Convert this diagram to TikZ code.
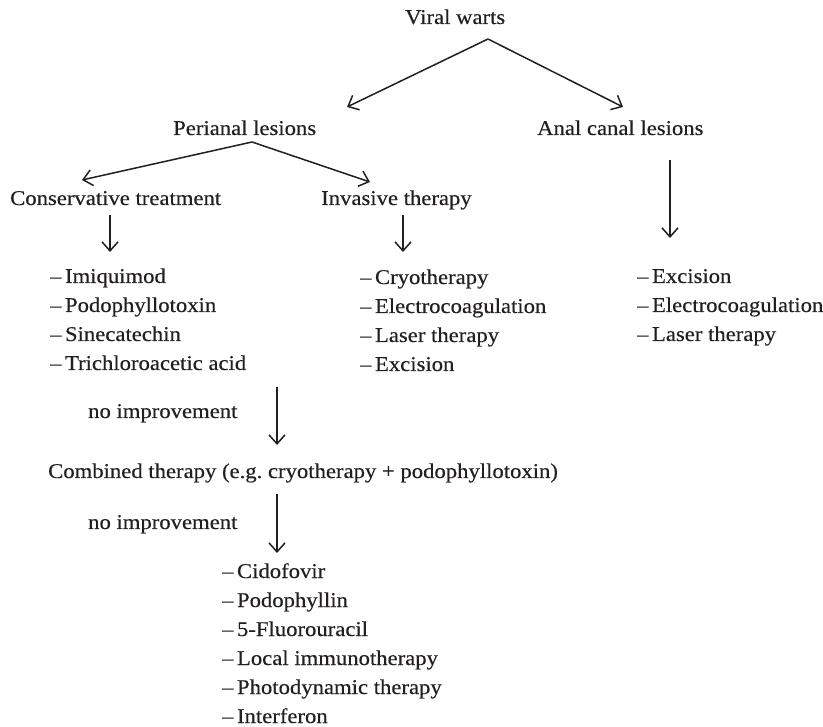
\documentclass[tikz,border=0pt]{standalone}
\usepackage{fontspec}
\setmainfont[FakeStretch=1.08, FakeBold=0.35]{Liberation Serif}
\usetikzlibrary{arrows.meta}
\definecolor{inkDark}{HTML}{231F20}
\newcommand{\itemdash}{–\kern3.5pt}
\tikzset{
  arrowV/.style={-{Straight Barb[length=9pt, width=16pt]}, draw=inkDark, line width=1.5pt},
  lbl/.style={anchor=base west, inner sep=0pt, text=inkDark,
              font=\fontsize{21}{29}\selectfont},
}

\begin{document}
\begin{tikzpicture}[x=1pt, y=-1pt]
    \useasboundingbox (0,0) rectangle (823,727);
    % headings
    \node[lbl] (viral) at (405,24) {Viral warts};
    \node[lbl] (peri) at (173,135) {Perianal lesions};
    \node[lbl] (anal) at (537,135) {Anal canal lesions};
    \node[lbl] (cons) at (10,205) {Conservative treatment};
    \node[lbl] (inva) at (321,205) {Invasive therapy};
    \node[lbl] (noimpA) at (88,418) {no improvement};
    \node[lbl] (comb) at (48,478) {Combined therapy (e.g.\ cryotherapy + podophyllotoxin)};
    \node[lbl] (noimpB) at (88,529) {no improvement};
    % lists
    \foreach \txt [count=\i] in {Imiquimod, Podophyllotoxin, Sinecatechin, Trichloroacetic acid}
      \node[lbl] (cons-\i) at (50,283+29*\i-29) {\itemdash\txt};
    \foreach \txt [count=\i] in {Cryotherapy, Electrocoagulation, Laser therapy, Excision}
      \node[lbl] (inva-\i) at (360,284+29*\i-29) {\itemdash\txt};
    \foreach \txt [count=\i] in {Excision, Electrocoagulation, Laser therapy}
      \node[lbl] (anal-\i) at (637,283+29*\i-29) {\itemdash\txt};
    \foreach \txt [count=\i] in {Cidofovir, Podophyllin, 5-Fluorouracil, Local immunotherapy,
        Photodynamic therapy, Interferon}
      \node[lbl] (last-\i) at (222,578+29*\i-29) {\itemdash\txt};
    % arrow ends
    \coordinate (viral-out) at (488,39);
    \coordinate (peri-in) at (347,107);
    \coordinate (anal-in) at (623,107);
    \coordinate (peri-out) at (252,142);
    \coordinate (cons-in) at (82,180);
    \coordinate (inva-in) at (370,182);
    \coordinate (cons-out) at (110,215);
    \coordinate (cons-list) at (110,252);
    \coordinate (inva-out) at (403,215);
    \coordinate (inva-list) at (403,252);
    \coordinate (anal-out) at (670,160);
    \coordinate (anal-list) at (670,238);
    \coordinate (cons-end) at (277,387);
    \coordinate (comb-in) at (277,445);
    \coordinate (comb-out) at (277,494);
    \coordinate (last-in) at (277,553);
    % connectors
    \draw[arrowV] (viral-out) -- (peri-in);
    \draw[arrowV] (viral-out) -- (anal-in);
    \draw[arrowV] (peri-out) -- (cons-in);
    \draw[arrowV] (peri-out) -- (inva-in);
    \draw[arrowV] (cons-out) -- (cons-list);
    \draw[arrowV] (inva-out) -- (inva-list);
    \draw[arrowV] (anal-out) -- (anal-list);
    \draw[arrowV] (cons-end) -- (comb-in);
    \draw[arrowV] (comb-out) -- (last-in);
\end{tikzpicture}
\end{document}
